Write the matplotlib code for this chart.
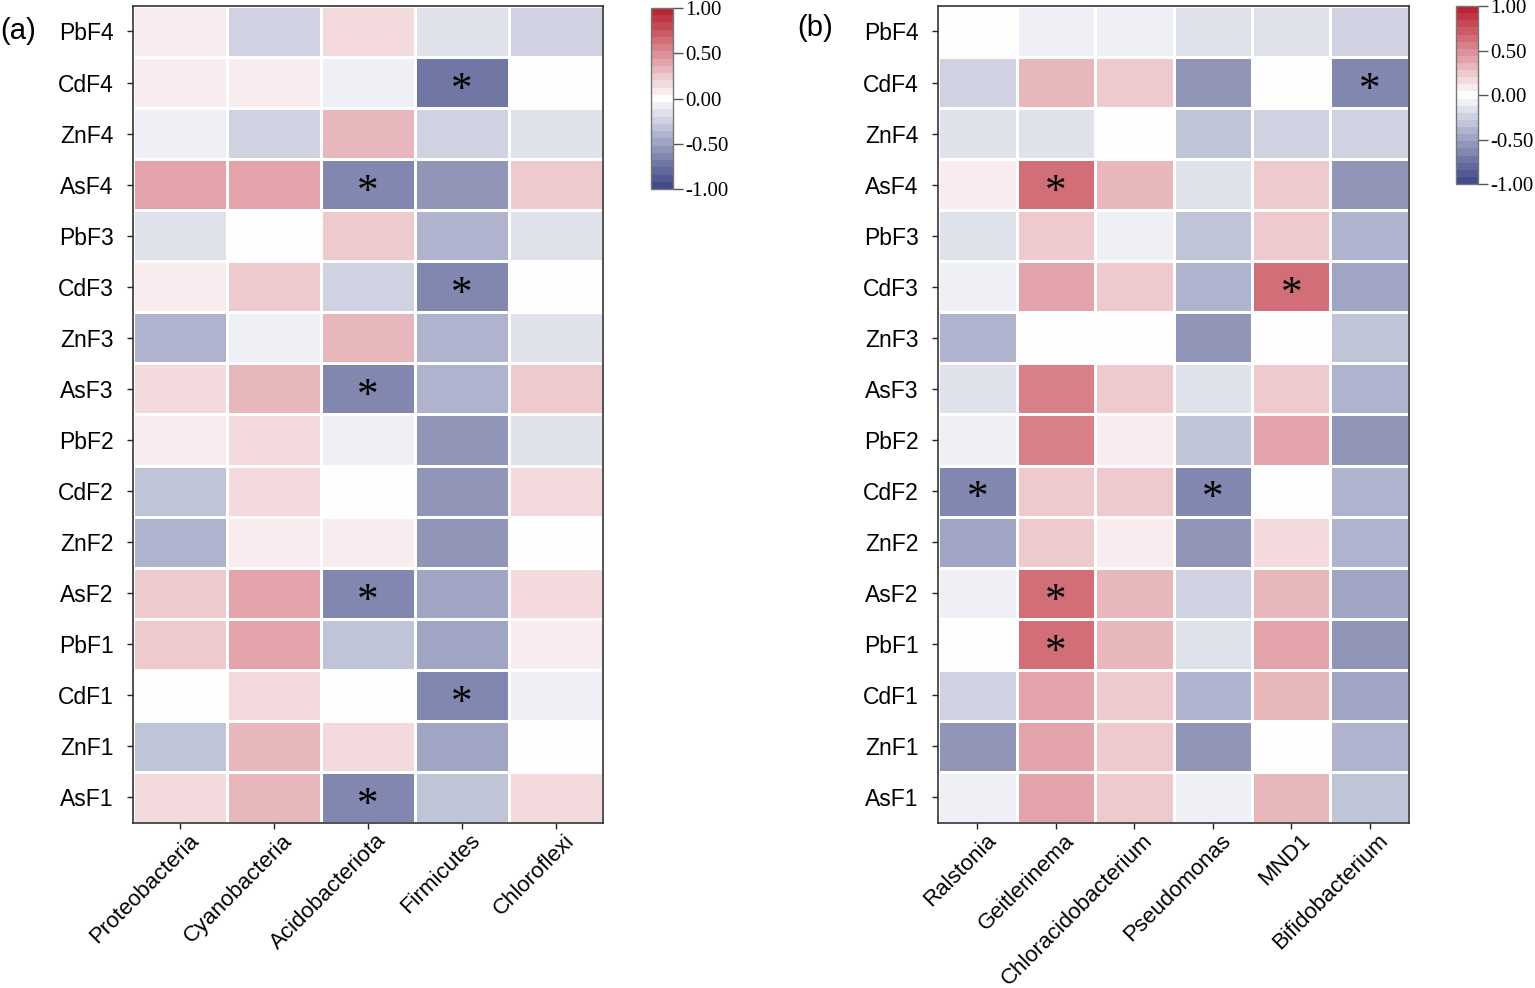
import numpy as np
import matplotlib
matplotlib.use("Agg")
import matplotlib.pyplot as plt
from matplotlib.colors import LinearSegmentedColormap, ListedColormap, BoundaryNorm
from matplotlib.transforms import ScaledTranslation

rows = ["PbF4", "CdF4", "ZnF4", "AsF4", "PbF3", "CdF3", "ZnF3", "AsF3",
        "PbF2", "CdF2", "ZnF2", "AsF2", "PbF1", "CdF1", "ZnF1", "AsF1"]

phyla = ["Proteobacteria", "Cyanobacteria", "Acidobacteriota", "Firmicutes", "Chloroflexi"]
vals_a = [
    [0.08, -0.24, 0.16, -0.16, -0.24],
    [0.08, 0.08, -0.08, -0.72, 0.00],
    [-0.08, -0.24, 0.32, -0.24, -0.16],
    [0.40, 0.40, -0.64, -0.56, 0.24],
    [-0.16, 0.00, 0.24, -0.40, -0.16],
    [0.08, 0.24, -0.24, -0.64, 0.00],
    [-0.40, -0.08, 0.32, -0.40, -0.16],
    [0.16, 0.32, -0.64, -0.40, 0.24],
    [0.08, 0.16, -0.08, -0.56, -0.16],
    [-0.32, 0.16, 0.00, -0.56, 0.16],
    [-0.40, 0.08, 0.08, -0.56, 0.00],
    [0.24, 0.40, -0.64, -0.48, 0.16],
    [0.24, 0.40, -0.32, -0.48, 0.08],
    [0.00, 0.16, 0.00, -0.64, -0.08],
    [-0.32, 0.32, 0.16, -0.48, 0.00],
    [0.16, 0.32, -0.64, -0.32, 0.16],
]
sig_a = [
    [0, 0, 0, 0, 0],
    [0, 0, 0, 1, 0],
    [0, 0, 0, 0, 0],
    [0, 0, 1, 0, 0],
    [0, 0, 0, 0, 0],
    [0, 0, 0, 1, 0],
    [0, 0, 0, 0, 0],
    [0, 0, 1, 0, 0],
    [0, 0, 0, 0, 0],
    [0, 0, 0, 0, 0],
    [0, 0, 0, 0, 0],
    [0, 0, 1, 0, 0],
    [0, 0, 0, 0, 0],
    [0, 0, 0, 1, 0],
    [0, 0, 0, 0, 0],
    [0, 0, 1, 0, 0],
]

genera = ["Ralstonia", "Geitlerinema", "Chloracidobacterium", "Pseudomonas", "MND1", "Bifidobacterium"]
vals_b = [
    [0.00, -0.08, -0.08, -0.16, -0.16, -0.24],
    [-0.24, 0.32, 0.24, -0.56, 0.00, -0.64],
    [-0.16, -0.16, 0.00, -0.32, -0.24, -0.24],
    [0.08, 0.64, 0.32, -0.16, 0.24, -0.56],
    [-0.16, 0.24, -0.08, -0.32, 0.24, -0.40],
    [-0.08, 0.40, 0.24, -0.40, 0.64, -0.48],
    [-0.40, 0.00, 0.00, -0.56, 0.00, -0.32],
    [-0.16, 0.56, 0.24, -0.16, 0.24, -0.40],
    [-0.08, 0.56, 0.08, -0.32, 0.40, -0.56],
    [-0.64, 0.24, 0.24, -0.64, 0.00, -0.40],
    [-0.48, 0.24, 0.08, -0.56, 0.16, -0.40],
    [-0.08, 0.64, 0.32, -0.24, 0.32, -0.48],
    [0.00, 0.64, 0.32, -0.16, 0.40, -0.56],
    [-0.24, 0.40, 0.24, -0.40, 0.32, -0.48],
    [-0.56, 0.40, 0.24, -0.56, 0.00, -0.40],
    [-0.08, 0.40, 0.24, -0.08, 0.32, -0.32],
]
sig_b = [
    [0, 0, 0, 0, 0, 0],
    [0, 0, 0, 0, 0, 1],
    [0, 0, 0, 0, 0, 0],
    [0, 1, 0, 0, 0, 0],
    [0, 0, 0, 0, 0, 0],
    [0, 0, 0, 0, 1, 0],
    [0, 0, 0, 0, 0, 0],
    [0, 0, 0, 0, 0, 0],
    [0, 0, 0, 0, 0, 0],
    [1, 0, 0, 1, 0, 0],
    [0, 0, 0, 0, 0, 0],
    [0, 1, 0, 0, 0, 0],
    [0, 1, 0, 0, 0, 0],
    [0, 0, 0, 0, 0, 0],
    [0, 0, 0, 0, 0, 0],
    [0, 0, 0, 0, 0, 0],
]

cbar_ticks = [-1.0, -0.5, 0.0, 0.5, 1.0]

# colormap: discrete bands
base = LinearSegmentedColormap.from_list(
    "bwr_custom", [(0.0, "#3a4482"), (0.5, "#ffffff"), (1.0, "#b71c2c")])
nb = 25
bounds = np.linspace(-1, 1, nb + 1)
centers = (bounds[:-1] + bounds[1:]) / 2
cmap = ListedColormap(base((centers + 1) / 2))
norm = BoundaryNorm(bounds, cmap.N)

fig = plt.figure(figsize=(15.35, 9.88), dpi=100)

sans = "Liberation Sans"
serif = "Liberation Serif"


def draw(ax, vals, sig, cols):
    data = np.array(vals)
    nr, nc = data.shape
    ax.pcolormesh(np.arange(nc + 1), np.arange(nr + 1), data, cmap=cmap, norm=norm,
                  edgecolors="white", linewidth=1.8)
    ax.set_xlim(0, nc)
    ax.set_ylim(nr, 0)
    ax.set_yticks(np.arange(nr) + 0.5)
    ax.set_yticklabels(rows, fontsize=16.5, family=sans)
    ax.set_xticks(np.arange(nc) + 0.5)
    ax.set_xticklabels([])
    trans = ax.get_xaxis_transform() + ScaledTranslation(8 / 100, -7 / 100,
                                                         fig.dpi_scale_trans)
    for j, name in enumerate(cols):
        ax.text(j + 0.5, 0.0, name, transform=trans, rotation=45,
                rotation_mode="anchor", ha="right", va="top",
                fontsize=16, family=sans, color="black")
    ax.tick_params(axis="both", direction="out", length=4, width=1, colors="#222222",
                   labelcolor="black")
    ax.tick_params(axis="y", pad=10)
    for s in ax.spines.values():
        s.set_linewidth(1.2)
        s.set_color("#333333")
    sg = np.array(sig)
    for i in range(nr):
        for j in range(nc):
            if sg[i, j]:
                ax.text(j + 0.5, i + 0.66, "*", ha="center", va="center",
                        fontsize=31, family=serif, color="black")


def cbar(cax):
    cb = fig.colorbar(plt.cm.ScalarMappable(norm=norm, cmap=cmap), cax=cax,
                      ticks=cbar_ticks)
    cb.ax.minorticks_off()
    cb.ax.set_yticklabels(["%.2f" % t for t in cbar_ticks], family=serif, fontsize=15)
    cb.ax.tick_params(length=7, width=1, color="#555555", pad=2)
    cb.outline.set_edgecolor("#777777")
    cb.outline.set_linewidth(1)
    return cb


ax_a = fig.add_axes([0.0866, 0.167, 0.3062, 0.827])
draw(ax_a, vals_a, sig_a, phyla)
cax_a = fig.add_axes([0.4241, 0.8087, 0.0143, 0.1832])
cbar(cax_a)

ax_b = fig.add_axes([0.6111, 0.167, 0.3068, 0.827])
draw(ax_b, vals_b, sig_b, genera)
cax_b = fig.add_axes([0.9485, 0.8138, 0.0143, 0.180])
cbar(cax_b)

fig.text(0.0, 1 - 31 / 988, "(a)", fontsize=21, family=sans, ha="left", va="center")
fig.text(797 / 1535, 1 - 28 / 988, "(b)", fontsize=21, family=sans, ha="left", va="center")

fig.savefig("out.png", dpi=100)
